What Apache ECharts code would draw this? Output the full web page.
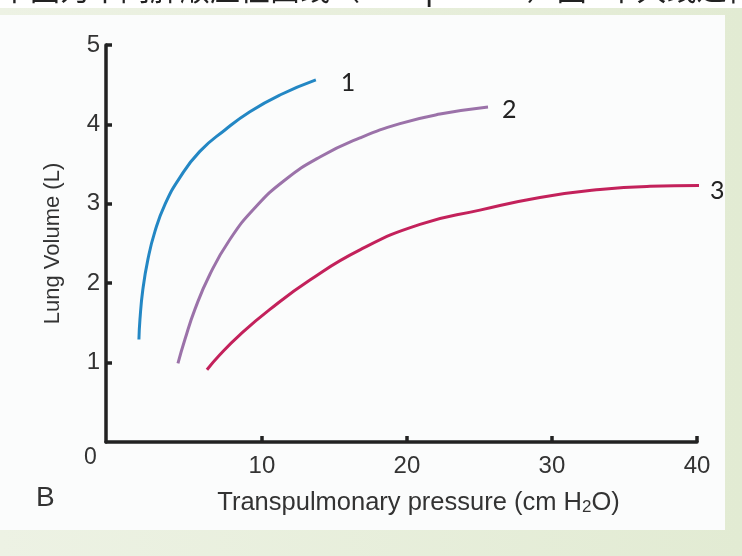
<!DOCTYPE html>
<html><head><meta charset="utf-8">
<script src="https://cdn.jsdelivr.net/npm/echarts@6/dist/echarts.min.js"></script>
<style>html,body{margin:0;padding:0;background:#fff;}#c{width:742px;height:556px;}</style>
</head><body><div id="c"></div>
<script>
// Data
var curveNames = ['1', '2', '3'];
var curve1 = [[1.52,1.29],[1.59,1.54],[1.79,1.92],[2.14,2.30],[2.62,2.65],[3.31,2.99],[4.34,3.33],[5.72,3.66],[7.45,3.93],[9.17,4.16],[11.24,4.37],[13.72,4.56]];
var curve2 = [[4.21,0.99],[4.69,1.29],[5.38,1.67],[6.41,2.11],[7.79,2.55],[9.52,2.95],[11.59,3.30],[14.0,3.59],[16.76,3.83],[19.52,4.01],[22.28,4.13],[25.59,4.22]];
var curve3 = [[6.21,0.91],[7.10,1.10],[8.48,1.35],[10.55,1.67],[13.31,2.04],[16.76,2.42],[20.9,2.74],[25.03,2.92],[29.17,3.08],[33.31,3.18],[36.76,3.22],[40.5,3.23]];
var xTicks = [10, 20, 30, 40];
var yTicks = [1, 2, 3, 4, 5];
var colors = ['#2387c4', '#9b72a9', '#c3215b'];
var labelOffsets = [[17, 3], [6, 3], [3, 5]];

var chart = echarts.init(document.getElementById('c'), null, {renderer: 'canvas'});
var font = '"Liberation Sans", Arial, sans-serif';
var seriesData = [curve1, curve2, curve3];
var series = seriesData.map(function (d, i) {
  return {
    type: 'line', name: curveNames[i], data: d, smooth: true, showSymbol: false, clip: false,
    lineStyle: {color: colors[i], width: 3}, silent: true,
    endLabel: {show: true, formatter: '{a}', fontFamily: 'Lato', fontSize: 25, color: '#222', offset: labelOffsets[i]}
  };
});
chart.setOption({
  animation: false,
  backgroundColor: 'transparent',
  graphic: [
    {type: 'rect', z: -10, shape: {x: 0, y: 8, width: 742, height: 548},
      style: {fill: new echarts.graphic.LinearGradient(0, 0, 1, 0, [{offset: 0, color: '#edf2e4'}, {offset: 1, color: '#e2ebd3'}])}},
    {type: 'rect', z: -9, shape: {x: 0, y: 15, width: 725, height: 515},
      style: {fill: '#fbfcfc'}},
    {type: 'text', z: 5, left: 0, top: -26, style: {text: '下图为不同肺顺应性曲线（Compliance）图B中大线进行比较', font: '30px "Noto Sans CJK SC"', fill: '#222'}},
    {type: 'text', z: 5, left: 84, top: 446, style: {text: '0', font: '23px ' + font, fill: '#333'}},
    {type: 'text', z: 5, left: 36, top: 484, style: {text: 'B', font: '28px ' + font, fill: '#333'}}
  ],
  grid: {left: 106, right: 45, top: 45, bottom: 114, containLabel: false},
  xAxis: {
    type: 'value', min: -0.75, max: 40,
    name: 'Transpulmonary pressure (cm H{sub|2}O)', nameLocation: 'middle', nameGap: 47,
    nameTextStyle: {fontFamily: font, fontSize: 25.5, color: '#333', padding: [0, 0, 0, 34],
      rich: {sub: {fontFamily: font, fontSize: 17, color: '#333', verticalAlign: 'bottom', padding: [10, 0, 0, 0]}}},
    axisLine: {show: true, onZero: false, lineStyle: {color: '#222', width: 3.5}},
    axisTick: {show: true, inside: true, length: 6, customValues: xTicks, lineStyle: {color: '#222', width: 3.5}},
    axisLabel: {show: true, customValues: xTicks, fontFamily: font, fontSize: 24, color: '#333', margin: 12},
    splitLine: {show: false}
  },
  yAxis: {
    type: 'value', min: 0, max: 5,
    name: 'Lung Volume (L)', nameLocation: 'middle', nameGap: 42,
    nameTextStyle: {fontFamily: font, fontSize: 22, color: '#333'},
    axisLine: {show: true, onZero: false, lineStyle: {color: '#222', width: 3.5}},
    axisTick: {show: true, inside: true, length: 6, customValues: yTicks, lineStyle: {color: '#222', width: 3.5}},
    axisLabel: {show: true, customValues: yTicks, fontFamily: font, fontSize: 24, color: '#333', margin: 6},
    splitLine: {show: false}
  },
  series: series
});
</script></body></html>
